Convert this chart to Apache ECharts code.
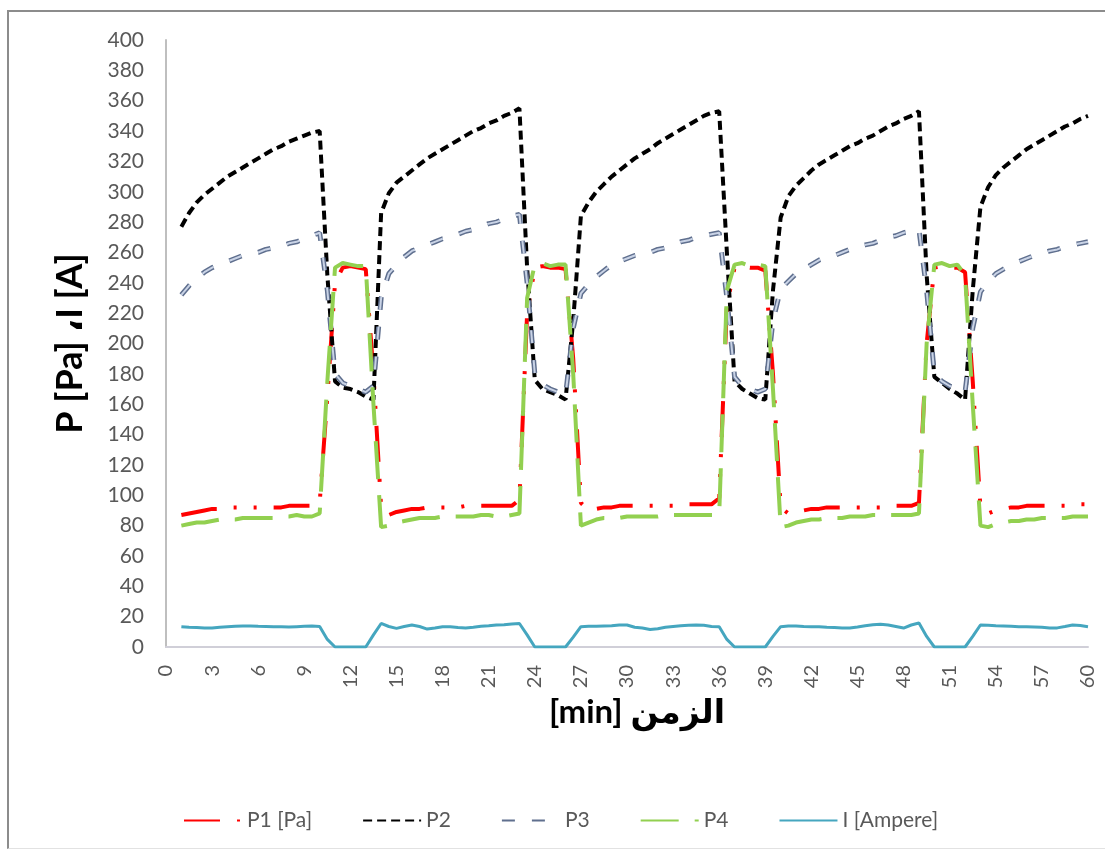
<!DOCTYPE html>
<html>
<head>
<meta charset="utf-8">
<title>P, I vs time</title>
<script src="https://cdn.jsdelivr.net/npm/echarts@6/dist/echarts.min.js"></script>
<style>
  html, body { margin: 0; padding: 0; background: #fff; }
  #chart { position: absolute; left: 0; top: 0; width: 1105px; height: 850px; }
  #frame {
    position: absolute; left: 7px; top: 10px; width: 1110px; height: 836px;
    border-left: 2px solid #8c8c8c; border-top: 2px solid #8c8c8c;
    border-bottom: 1px solid #e2e2e2; pointer-events: none;
  }
</style>
</head>
<body>
<div id="chart"></div>
<div id="frame"></div>
<script>
// time in minutes (half-minute samples)
const minutes = [
  1, 1.5, 2, 2.5, 3, 3.5, 4, 4.5, 5, 5.5,
  6, 6.5, 7, 7.5, 8, 8.5, 9, 9.5, 10, 10.5,
  11, 11.5, 12, 12.5, 13, 13.5, 14, 14.5, 15, 15.5,
  16, 16.5, 17, 17.5, 18, 18.5, 19, 19.5, 20, 20.5,
  21, 21.5, 22, 22.5, 23, 23.5, 24, 24.5, 25, 25.5,
  26, 26.5, 27, 27.5, 28, 28.5, 29, 29.5, 30, 30.5,
  31, 31.5, 32, 32.5, 33, 33.5, 34, 34.5, 35, 35.5,
  36, 36.5, 37, 37.5, 38, 38.5, 39, 39.5, 40, 40.5,
  41, 41.5, 42, 42.5, 43, 43.5, 44, 44.5, 45, 45.5,
  46, 46.5, 47, 47.5, 48, 48.5, 49, 49.5, 50, 50.5,
  51, 51.5, 52, 52.5, 53, 53.5, 54, 54.5, 55, 55.5,
  56, 56.5, 57, 57.5, 58, 58.5, 59, 59.5, 60
]

const p1 = [
  87, 88, 89, 90, 91, 91, 92, 92, 92, 92,
  92, 92, 92, 92, 93, 93, 93, 93, 95, 165,
  240, 250, 251, 250, 249, 180, 92, 87, 89, 90,
  91, 91, 92, 92, 92, 92, 92, 93, 93, 93,
  93, 93, 93, 93, 97, 220, 250, 251, 250, 250,
  249, 190, 95, 90, 91, 92, 92, 93, 93, 93,
  93, 93, 93, 93, 93, 94, 94, 94, 94, 94,
  98, 225, 250, 251, 250, 250, 248, 180, 92, 88,
  89, 90, 91, 91, 92, 92, 92, 92, 92, 92,
  92, 92, 92, 93, 93, 93, 95, 200, 250, 251,
  250, 250, 247, 175, 92, 88, 90, 91, 92, 92,
  93, 93, 93, 93, 93, 93, 94, 94, 94
]

const p2 = [
  277, 286, 293, 298, 302, 306, 310, 313, 316, 319,
  322, 325, 328, 330, 333, 335, 337, 339, 340, 245,
  175, 171, 170, 168, 165, 163, 286, 299, 306, 310,
  314, 318, 322, 325, 328, 331, 334, 337, 340, 342,
  345, 347, 350, 352, 355, 250, 176, 170, 168, 166,
  163, 215, 284, 293, 300, 305, 310, 314, 318, 322,
  325, 328, 332, 335, 338, 341, 344, 347, 350, 352,
  353, 260, 175, 170, 167, 164, 163, 235, 283, 297,
  304, 309, 314, 318, 321, 324, 327, 330, 332, 335,
  337, 340, 343, 345, 348, 350, 353, 245, 178, 174,
  170, 167, 163, 235, 290, 303, 311, 316, 320, 324,
  328, 331, 334, 337, 340, 343, 345, 348, 350
]

const p3 = [
  232, 238, 243, 247, 250, 252, 254, 256, 258, 259,
  260, 262, 263, 264, 266, 267, 269, 271, 273, 235,
  180, 174, 172, 170, 168, 172, 230, 246, 252, 257,
  261, 263, 265, 267, 269, 270, 272, 274, 275, 277,
  279, 280, 282, 284, 285, 240, 180, 173, 170, 168,
  166, 210, 233, 239, 244, 248, 252, 254, 256, 258,
  259, 260, 262, 263, 265, 267, 268, 270, 271, 272,
  273, 230, 178, 172, 170, 168, 170, 215, 236, 241,
  246, 249, 252, 255, 257, 258, 260, 262, 264, 265,
  266, 268, 270, 271, 273, 274, 275, 235, 180, 175,
  172, 170, 168, 210, 234, 241, 246, 249, 252, 254,
  256, 258, 259, 261, 262, 264, 265, 266, 267
]

const p4 = [
  80, 81, 82, 82, 83, 84, 84, 84, 85, 85,
  85, 85, 85, 86, 86, 87, 86, 86, 88, 175,
  250, 253, 252, 251, 251, 160, 79, 80, 82, 83,
  84, 85, 85, 85, 86, 86, 86, 86, 86, 87,
  87, 86, 86, 87, 88, 230, 252, 253, 251, 252,
  252, 180, 80, 82, 84, 85, 85, 85, 86, 86,
  86, 86, 86, 87, 87, 87, 87, 87, 87, 87,
  87, 235, 252, 253, 251, 252, 251, 170, 79, 80,
  82, 83, 84, 84, 85, 85, 85, 86, 86, 86,
  87, 87, 87, 87, 87, 87, 88, 200, 252, 253,
  251, 252, 245, 160, 80, 79, 81, 82, 83, 83,
  84, 84, 85, 85, 85, 85, 86, 86, 86
]

const current = [
  13.4, 13.0, 12.8, 12.5, 12.5, 13.0, 13.3, 13.6, 13.8, 13.8,
  13.6, 13.5, 13.4, 13.3, 13.2, 13.4, 13.6, 13.8, 13.5, 5,
  0, 0, 0, 0, 0, 8, 15.5, 13.5, 12.3, 13.5,
  14.5, 13.5, 11.8, 12.5, 13.4, 13.4, 12.8, 12.5, 13.0, 13.6,
  14.0, 14.5, 14.6, 15.2, 15.5, 8, 0, 0, 0, 0,
  0, 6.5, 13.4, 13.6, 13.6, 13.8, 14.0, 14.5, 14.5, 13.0,
  12.5, 11.5, 12.0, 13.0, 13.5, 14.0, 14.3, 14.5, 14.3, 13.5,
  13.4, 5, 0, 0, 0, 0, 0, 7, 13.4, 13.8,
  13.8, 13.5, 13.3, 13.4, 13.0, 12.8, 12.6, 12.5, 13.2, 14.0,
  14.6, 15.0, 14.5, 13.5, 12.5, 14.5, 15.8, 7, 0, 0,
  0, 0, 0, 7, 14.5, 14.3, 14.0, 13.8, 13.6, 13.4,
  13.4, 13.2, 13.0, 12.5, 12.6, 13.5, 14.5, 14.2, 13.4
]

const seriesNames = ['P1 [Pa]', 'P2', 'P3', 'P4', 'I [Ampere]']

function pairs(values) {
  return minutes.map((t, i) => [t, values[i]])
}

const labelFont = 'Lato, "Open Sans", sans-serif'
const titleFont = 'Lato, "DejaVu Sans", sans-serif'

const chart = echarts.init(document.getElementById('chart'))
const option = {
  backgroundColor: '#fff',
  animation: false,
  grid: {
    left: 166,
    right: 17,
    top: 40,
    bottom: 203,
    outerBoundsMode: 'none'
  },
  legend: {
    data: seriesNames,
    left: 178,
    top: 805,
    itemWidth: 58,
    itemHeight: 14,
    itemGap: 50,
    // hide the marker dot, keep only the dashed line
    itemStyle: { opacity: 0 },
    textStyle: {
      color: '#595959',
      fontSize: 21,
      fontFamily: labelFont
    }
  },
  xAxis: {
    type: 'value',
    min: 0,
    max: 60,
    interval: 3,
    name: '[min] الزمن',
    nameLocation: 'middle',
    nameGap: 48,
    nameTextStyle: {
      color: '#000',
      fontSize: 33,
      fontWeight: 'bold',
      fontFamily: titleFont,
      padding: [0, 0, 0, 20]
    },
    axisLine: { lineStyle: { color: '#d0cfd8', width: 2 } },
    axisTick: { show: false },
    splitLine: { show: false },
    axisLabel: {
      rotate: 90,
      margin: 18,
      color: '#595959',
      fontSize: 20,
      fontFamily: labelFont
    }
  },
  yAxis: {
    type: 'value',
    min: 0,
    max: 400,
    interval: 20,
    name: 'P [Pa] ،I [A]',
    nameLocation: 'middle',
    nameGap: 78,
    nameTextStyle: {
      color: '#000',
      fontSize: 36,
      fontWeight: 'bold',
      fontFamily: titleFont
    },
    axisLine: { show: true, lineStyle: { color: '#bfbfbf', width: 2 } },
    axisTick: { show: false },
    splitLine: { show: false },
    axisLabel: {
      margin: 22,
      color: '#595959',
      fontSize: 21,
      fontFamily: labelFont
    }
  },
  series: [
    {
      name: 'P1 [Pa]',
      type: 'line',
      symbol: 'none',
      data: pairs(p1),
      lineStyle: { color: '#ff0000', width: 4, type: [36, 17, 3, 17, 3, 17] },
      itemStyle: { color: '#ff0000' }
    },
    {
      name: 'P2',
      type: 'line',
      symbol: 'none',
      data: pairs(p2),
      lineStyle: { color: '#000000', width: 4, type: [9, 5] },
      itemStyle: { color: '#000000' }
    },
    {
      name: 'P3',
      type: 'line',
      symbol: 'none',
      data: pairs(p3),
      lineStyle: { color: '#5f6f8e', width: 5, type: [13, 17] },
      itemStyle: { color: '#5f6f8e' }
    },
    {
      // light core of the P3 compound line
      name: 'P3 core',
      type: 'line',
      symbol: 'none',
      silent: true,
      data: pairs(p3),
      lineStyle: { color: '#c9d3e6', width: 2, type: [13, 17] }
    },
    {
      name: 'P4',
      type: 'line',
      symbol: 'none',
      data: pairs(p4),
      lineStyle: { color: '#92d050', width: 4, type: [38, 16] },
      itemStyle: { color: '#92d050' }
    },
    {
      name: 'I [Ampere]',
      type: 'line',
      symbol: 'none',
      data: pairs(current),
      lineStyle: { color: '#45a6bf', width: 3 },
      itemStyle: { color: '#45a6bf' }
    }
  ]
}
chart.setOption(option)
</script>
</body>
</html>
